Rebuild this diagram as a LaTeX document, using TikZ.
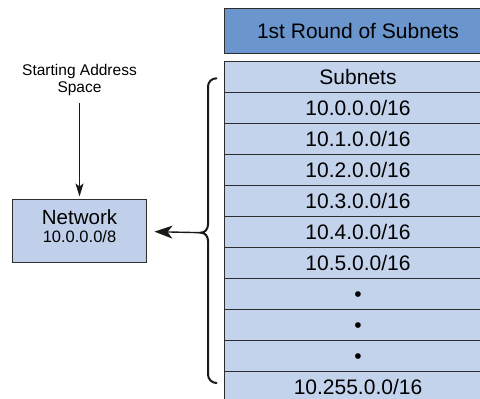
\documentclass[tikz,border=0pt]{standalone}
\usepackage{fontspec}
\setmainfont{Liberation Sans}
\usetikzlibrary{arrows.meta}
\definecolor{headblue}{RGB}{106,150,205}
\definecolor{cellblue}{RGB}{196,211,236}
\definecolor{netblue}{RGB}{193,208,234}
\definecolor{rulegray}{RGB}{45,45,45}
\begin{document}
\begin{tikzpicture}[x=1pt,y=1pt,
  headcell/.style={draw=rulegray, line width=1pt, fill=headblue,
    minimum width=268pt, minimum height=45pt, inner sep=0pt,
    text height=14pt, text depth=0pt, font=\fontsize{21}{24}\selectfont},
  cell/.style={draw=rulegray, line width=1pt, fill=cellblue,
    minimum width=268pt, minimum height=31pt, inner sep=0pt,
    text height=14pt, text depth=0pt, font=\fontsize{21}{24}\selectfont},
  netbox/.style={draw=rulegray, line width=1pt, fill=netblue,
    minimum width=134pt, minimum height=63pt, inner sep=0pt},
  bracepath/.style={draw=black!90, line width=2pt, line cap=round},
  arrowline/.style={draw=black!90, line width=1.4pt},
]
\useasboundingbox (0,0) rectangle (480,399);
\clip (0,0) rectangle (480,399);

% header and subnet table
\node[headcell] (head) at (358,367.5) {1st Round of Subnets};
\node[cell] (r0)  at (358,321.5) {Subnets};
\node[cell] (r1)  at (358,290.5) {10.0.0.0/16};
\node[cell] (r2)  at (358,259.5) {10.1.0.0/16};
\node[cell] (r3)  at (358,228.5) {10.2.0.0/16};
\node[cell] (r4)  at (358,197.5) {10.3.0.0/16};
\node[cell] (r5)  at (358,166.5) {10.4.0.0/16};
\node[cell] (r6)  at (358,135.5) {10.5.0.0/16};
\node[cell] (r7)  at (358,104.5) {•};
\node[cell] (r8)  at (358,73.5)  {•};
\node[cell] (r9)  at (358,42.5)  {•};
\node[cell] (r10) at (358,11.5)  {10.255.0.0/16};

% network box
\node[netbox] (net) at (79.5,167.5) {};
\node[anchor=base, inner sep=0pt, font=\fontsize{20.5}{24}\selectfont]
  (netname) at ([yshift=6.8pt]net.center) {Network};
\node[anchor=base, inner sep=0pt, font=\fontsize{16.5}{20}\selectfont]
  (netaddr) at ([yshift=-11.2pt]net.center) {10.0.0.0/8};

% starting address label
\node[anchor=north, inner sep=0pt, align=center,
  font=\fontsize{15.5}{17}\selectfont] (start) at (79.5,335.3)
  {Starting Address\\Space};
\draw[arrowline, -{Stealth[length=13pt,width=8pt,inset=3pt]},
  shorten <=7.5pt, shorten >=3pt] (start.south) -- (net.north);

% brace spanning the subnet rows
\coordinate (cusp) at (201,166.3);
\draw[bracepath] (216.5,320.7) to[out=180,in=90] (208,312.5)
  -- (208,174.5) to[out=-90,in=0] (cusp)
  to[out=0,in=90] (208,158.3) -- (208,24.5)
  to[out=-90,in=180] (216.5,16);
\draw[arrowline, -{Stealth[length=18pt,width=13pt,inset=5pt]},
  shorten >=7.5pt] (cusp) -- (net.east);
\end{tikzpicture}
\end{document}
